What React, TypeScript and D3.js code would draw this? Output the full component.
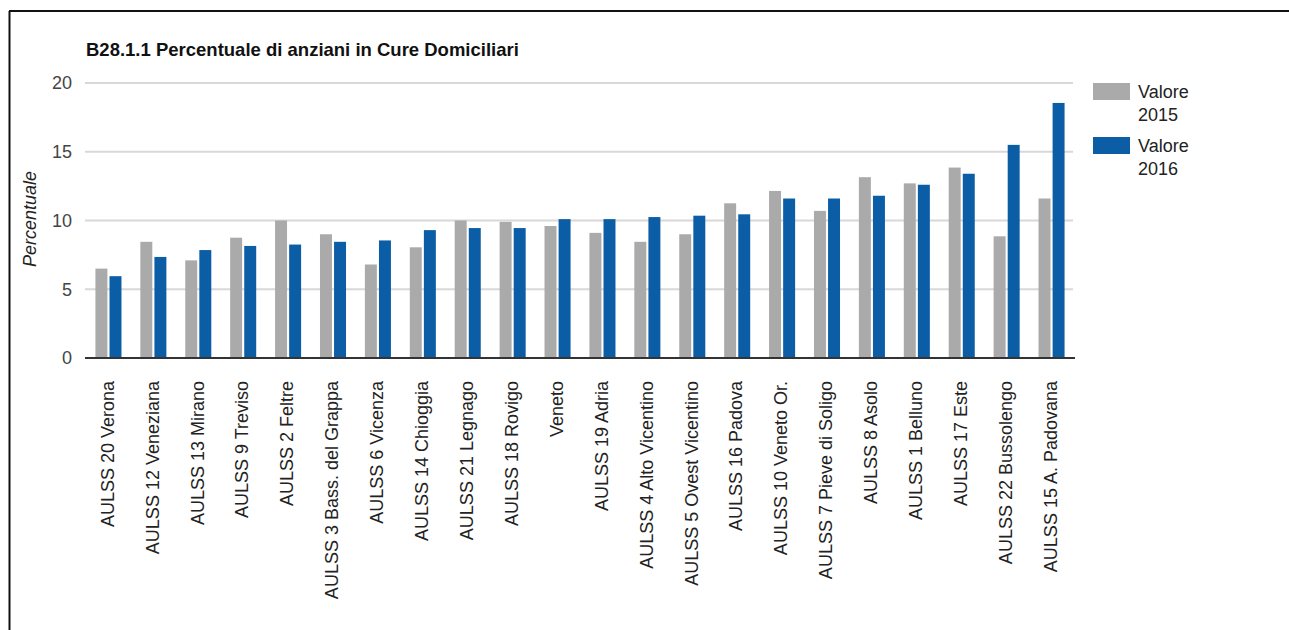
import React from "react";
import * as d3 from "d3";

const categories = [
  "AULSS 20 Verona",
  "AULSS 12 Veneziana",
  "AULSS 13 Mirano",
  "AULSS 9 Treviso",
  "AULSS 2 Feltre",
  "AULSS 3 Bass. del Grappa",
  "AULSS 6 Vicenza",
  "AULSS 14 Chioggia",
  "AULSS 21 Legnago",
  "AULSS 18 Rovigo",
  "Veneto",
  "AULSS 19 Adria",
  "AULSS 4 Alto Vicentino",
  "AULSS 5 Ovest Vicentino",
  "AULSS 16 Padova",
  "AULSS 10 Veneto Or.",
  "AULSS 7 Pieve di Soligo",
  "AULSS 8 Asolo",
  "AULSS 1 Belluno",
  "AULSS 17 Este",
  "AULSS 22 Bussolengo",
  "AULSS 15 A. Padovana",
];

const values2015 = [6.5, 8.45, 7.1, 8.75, 10.0, 9.0, 6.8, 8.05, 10.0, 9.9, 9.6, 9.1, 8.45, 9.0, 11.25, 12.15, 10.7, 13.15, 12.7, 13.85, 8.85, 11.6];
const values2016 = [5.95, 7.35, 7.85, 8.15, 8.25, 8.45, 8.55, 9.3, 9.45, 9.45, 10.1, 10.1, 10.25, 10.35, 10.45, 11.6, 11.6, 11.8, 12.6, 13.4, 15.5, 18.55];

const seriesNames = ["Valore 2015", "Valore 2016"];
const seriesColors = ["#aaaaaa", "#0b5da6"];
const yTicks = [0, 5, 10, 15, 20];
const title = "B28.1.1 Percentuale di anziani in Cure Domiciliari";
const yAxisTitle = "Percentuale";

export default function App() {
  const W = 1289;
  const H = 630;
  const plotLeft = 85;
  const plotRight = 1073;
  const plotTop = 83;
  const plotBottom = 358;

  const x0 = d3.scaleBand<string>().domain(categories).range([plotLeft + 1, plotRight + 1]).paddingInner(0.42).paddingOuter(0.21);
  const x1 = d3.scaleBand<number>().domain([0, 1]).range([0, x0.bandwidth()]).paddingInner(0.15);
  const y = d3.scaleLinear().domain([0, 20]).range([plotBottom, plotTop]);

  const series = [values2015, values2016];
  const font = "Arial, 'Liberation Sans', sans-serif";

  return (
    <svg width={W} height={H} style={{ position: "absolute", left: 0, top: 0, background: "#fff" }} fontFamily={font}>
      <rect x={0} y={0} width={W} height={H} fill="#fff" />
      {/* frame */}
      <line x1={9} x2={W} y1={11} y2={11} stroke="#111" strokeWidth={2} />
      <line x1={9.5} x2={9.5} y1={11} y2={H} stroke="#111" strokeWidth={2} />

      <text x={86} y={56} fontSize={18.5} fontWeight="bold" fill="#111">{title}</text>

      {/* gridlines */}
      {yTicks.map((t) => (
        <g key={t}>
          {t !== 0 && (
            <line x1={plotLeft} x2={plotRight} y1={y(t)} y2={y(t)} stroke="#d8d8d8" strokeWidth={2} />
          )}
          <text x={72} y={y(t)} dy="0.35em" textAnchor="end" fontSize={18} fill="#444">{t}</text>
        </g>
      ))}

      {/* bars */}
      {categories.map((c, i) => (
        <g key={c} transform={`translate(${x0(c)},0)`}>
          {series.map((s, j) => (
            <rect key={j} x={x1(j)} y={y(s[i])} width={x1.bandwidth()} height={y(0) - y(s[i])} fill={seriesColors[j]} />
          ))}
        </g>
      ))}

      {/* baseline */}
      <line x1={plotLeft} x2={plotRight + 2} y1={y(0)} y2={y(0)} stroke="#333" strokeWidth={2} />

      {/* category labels */}
      {categories.map((c) => {
        const cx = (x0(c) as number) + x0.bandwidth() / 2 - 1;
        return (
          <text key={c} transform={`translate(${cx},381) rotate(-90)`} textAnchor="end" dy="0.35em" fontSize={18} fill="#222">{c}</text>
        );
      })}

      {/* y axis title */}
      <text transform={`translate(30,219) rotate(-90)`} textAnchor="middle" dy="0.35em" fontSize={18} fontStyle="italic" fill="#222">{yAxisTitle}</text>

      {/* legend */}
      {seriesNames.map((n, j) => {
        const top = 83 + j * 54;
        const parts = n.split(" ");
        return (
          <g key={n}>
            <rect x={1093} y={top} width={37} height={17} fill={seriesColors[j]} />
            <text x={1138} y={top + 15} fontSize={18} fill="#222">{parts[0]}</text>
            <text x={1138} y={top + 38} fontSize={18} fill="#222">{parts[1]}</text>
          </g>
        );
      })}
    </svg>
  );
}
